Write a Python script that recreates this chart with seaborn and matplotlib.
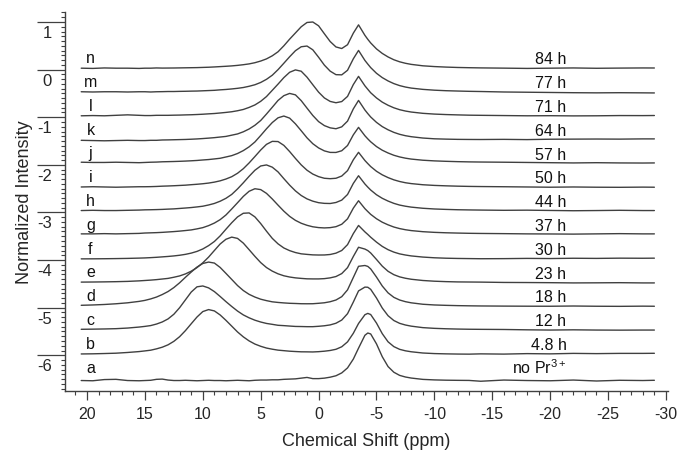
import pandas as pd
import matplotlib
matplotlib.use("Agg")
import matplotlib.pyplot as plt
import seaborn as sns
from matplotlib.ticker import MultipleLocator
from matplotlib.transforms import ScaledTranslation

# Chemical shift grid (ppm), shared by every spectrum
ppm = [20.5, 19.5, 18.5, 17.5, 16.5, 15.5,
       15.0, 14.5, 14.0, 13.5,
       13.0, 12.5, 12.0, 11.5, 11.0, 10.5, 10.0, 9.5, 9.0, 8.5,
       8.0, 7.5, 7.0, 6.5, 6.0, 5.5, 5.0, 4.5, 4.0, 3.5,
       3.0, 2.5, 2.0, 1.5, 1.0, 0.5, 0.0, -0.5, -1.0, -1.5,
       -2.0, -2.5, -3.0, -3.45, -4.0, -4.25, -4.5, -5.0, -5.5, -6.0,
       -6.5, -7.0, -7.5, -8.0, -9.0, -10.0, -11.0, -12.0, -13.0, -14.0,
       -16.0, -18.0, -20.0, -22.0, -24.0, -26.0, -28.0, -29.0]

# Normalized intensity of each spectrum (before stacking)
spec_n = [0.03, 0.025, 0.035, 0.03, 0.03, 0.025,
          0.03, 0.03, 0.035, 0.032,
          0.033, 0.034, 0.036, 0.038, 0.04, 0.042, 0.046, 0.05, 0.056, 0.063,
          0.07, 0.078, 0.089, 0.103, 0.12, 0.145, 0.18, 0.225, 0.29, 0.375,
          0.50, 0.64, 0.77, 0.90, 0.99, 1.0, 0.92, 0.753, 0.59, 0.476,
          0.443, 0.523, 0.766, 0.94, 0.72, 0.636, 0.56, 0.435, 0.34, 0.266,
          0.207, 0.164, 0.133, 0.11, 0.08, 0.064, 0.053, 0.045, 0.04, 0.036,
          0.031, 0.025, 0.03, 0.035, 0.028, 0.032, 0.035, 0.034]
spec_m = [0.035, 0.03, 0.035, 0.035, 0.03, 0.035,
          0.035, 0.03, 0.035, 0.037,
          0.04, 0.04, 0.043, 0.045, 0.048, 0.05, 0.055, 0.06, 0.065, 0.075,
          0.083, 0.094, 0.107, 0.124, 0.15, 0.182, 0.23, 0.296, 0.382, 0.50,
          0.634, 0.77, 0.897, 0.98, 0.995, 0.916, 0.76, 0.594, 0.468, 0.394,
          0.39, 0.486, 0.727, 0.903, 0.693, 0.616, 0.542, 0.423, 0.332, 0.262,
          0.206, 0.164, 0.134, 0.112, 0.085, 0.068, 0.057, 0.05, 0.044, 0.04,
          0.03, 0.025, 0.02, 0.015, 0.012, 0.015, 0.012, 0.01]
spec_l = [0.03, 0.035, 0.03, 0.04, 0.05, 0.04,
          0.035, 0.035, 0.04, 0.04,
          0.04, 0.043, 0.045, 0.049, 0.052, 0.057, 0.063, 0.071, 0.078, 0.089,
          0.101, 0.115, 0.136, 0.163, 0.206, 0.258, 0.334, 0.434, 0.565, 0.696,
          0.832, 0.944, 0.994, 0.966, 0.841, 0.683, 0.527, 0.405, 0.332, 0.304,
          0.329, 0.437, 0.686, 0.858, 0.66, 0.586, 0.514, 0.405, 0.317, 0.251,
          0.198, 0.158, 0.13, 0.109, 0.082, 0.066, 0.056, 0.049, 0.043, 0.04,
          0.035, 0.03, 0.032, 0.028, 0.03, 0.035, 0.034, 0.036]
spec_k = [0.015, 0.01, 0.005, 0.01, 0.015, 0.01,
          0.01, 0.015, 0.015, 0.022,
          0.024, 0.027, 0.03, 0.033, 0.038, 0.044, 0.052, 0.061, 0.071, 0.084,
          0.097, 0.123, 0.149, 0.194, 0.253, 0.331, 0.431, 0.567, 0.709, 0.853,
          0.953, 1.0, 0.97, 0.848, 0.691, 0.537, 0.408, 0.324, 0.277, 0.258,
          0.298, 0.418, 0.675, 0.853, 0.652, 0.576, 0.505, 0.392, 0.303, 0.236,
          0.182, 0.141, 0.112, 0.091, 0.063, 0.047, 0.04, 0.035, 0.033, 0.032,
          0.035, 0.03, 0.038, 0.04, 0.042, 0.04, 0.045, 0.045]
spec_j = [0.055, 0.05, 0.05, 0.055, 0.05, 0.045,
          0.05, 0.055, 0.058, 0.064,
          0.067, 0.07, 0.074, 0.079, 0.085, 0.092, 0.102, 0.111, 0.124, 0.138,
          0.165, 0.193, 0.238, 0.299, 0.378, 0.48, 0.616, 0.757, 0.888, 0.988,
          1.025, 0.981, 0.861, 0.716, 0.567, 0.444, 0.355, 0.293, 0.261, 0.26,
          0.296, 0.406, 0.63, 0.787, 0.611, 0.545, 0.484, 0.384, 0.307, 0.249,
          0.201, 0.166, 0.14, 0.121, 0.097, 0.083, 0.074, 0.067, 0.062, 0.059,
          0.055, 0.05, 0.045, 0.04, 0.045, 0.04, 0.038, 0.04]
spec_i = [0.035, 0.04, 0.035, 0.03, 0.035, 0.04,
          0.04, 0.042, 0.046, 0.052,
          0.056, 0.061, 0.067, 0.073, 0.083, 0.092, 0.103, 0.117, 0.137, 0.164,
          0.202, 0.251, 0.323, 0.419, 0.54, 0.674, 0.811, 0.93, 0.993, 0.989,
          0.909, 0.779, 0.635, 0.499, 0.387, 0.306, 0.252, 0.218, 0.209, 0.218,
          0.265, 0.378, 0.606, 0.763, 0.591, 0.526, 0.464, 0.365, 0.29, 0.232,
          0.185, 0.15, 0.124, 0.106, 0.082, 0.068, 0.059, 0.052, 0.047, 0.044,
          0.04, 0.035, 0.03, 0.035, 0.03, 0.028, 0.032, 0.03]
spec_h = [0.04, 0.045, 0.04, 0.04, 0.045, 0.05,
          0.055, 0.057, 0.06, 0.064,
          0.07, 0.075, 0.084, 0.093, 0.103, 0.116, 0.131, 0.157, 0.189, 0.236,
          0.297, 0.379, 0.494, 0.623, 0.759, 0.886, 0.976, 0.998, 0.951, 0.851,
          0.71, 0.574, 0.453, 0.356, 0.285, 0.237, 0.205, 0.191, 0.188, 0.209,
          0.259, 0.377, 0.61, 0.771, 0.598, 0.532, 0.471, 0.372, 0.297, 0.239,
          0.191, 0.155, 0.131, 0.112, 0.088, 0.073, 0.064, 0.057, 0.053, 0.05,
          0.045, 0.048, 0.042, 0.036, 0.04, 0.045, 0.04, 0.04]
spec_g = [0.05, 0.05, 0.055, 0.05, 0.055, 0.06,
          0.068, 0.072, 0.076, 0.082,
          0.09, 0.098, 0.108, 0.12, 0.133, 0.155, 0.181, 0.223, 0.277, 0.349,
          0.447, 0.573, 0.704, 0.837, 0.945, 0.998, 0.98, 0.901, 0.783, 0.653,
          0.527, 0.418, 0.334, 0.273, 0.23, 0.199, 0.182, 0.175, 0.181, 0.201,
          0.252, 0.366, 0.59, 0.746, 0.58, 0.519, 0.46, 0.368, 0.295, 0.24,
          0.194, 0.161, 0.137, 0.119, 0.096, 0.082, 0.073, 0.067, 0.062, 0.059,
          0.055, 0.05, 0.048, 0.045, 0.05, 0.055, 0.05, 0.05]
spec_f = [0.025, 0.026, 0.028, 0.031, 0.035, 0.041,
          0.045, 0.051, 0.058, 0.067,
          0.076, 0.087, 0.101, 0.12, 0.146, 0.182, 0.233, 0.303, 0.39, 0.508,
          0.648, 0.784, 0.906, 0.983, 0.99, 0.907, 0.767, 0.607, 0.456, 0.34,
          0.254, 0.198, 0.158, 0.131, 0.119, 0.109, 0.106, 0.107, 0.117, 0.145,
          0.201, 0.324, 0.556, 0.727, 0.592, 0.538, 0.48, 0.377, 0.287, 0.218,
          0.167, 0.13, 0.106, 0.087, 0.063, 0.048, 0.039, 0.034, 0.031, 0.028,
          0.03, 0.035, 0.032, 0.038, 0.035, 0.04, 0.038, 0.04]
spec_e = [0.037, 0.039, 0.042, 0.046, 0.052, 0.063,
          0.071, 0.079, 0.089, 0.102,
          0.115, 0.139, 0.167, 0.209, 0.266, 0.342, 0.442, 0.562, 0.701, 0.838,
          0.937, 0.982, 0.955, 0.856, 0.718, 0.578, 0.447, 0.343, 0.268, 0.211,
          0.17, 0.144, 0.126, 0.115, 0.106, 0.104, 0.104, 0.11, 0.126, 0.154,
          0.216, 0.341, 0.575, 0.769, 0.731, 0.699, 0.649, 0.513, 0.372, 0.264,
          0.193, 0.147, 0.118, 0.097, 0.071, 0.056, 0.047, 0.041, 0.039, 0.037,
          0.03, 0.028, 0.025, 0.02, 0.022, 0.025, 0.02, 0.02]
spec_d = [0.05, 0.057, 0.067, 0.082, 0.102, 0.132,
          0.153, 0.184, 0.223, 0.276,
          0.339, 0.422, 0.523, 0.638, 0.748, 0.853, 0.928, 0.958, 0.937, 0.845,
          0.72, 0.593, 0.465, 0.36, 0.28, 0.223, 0.178, 0.148, 0.123, 0.11,
          0.10, 0.092, 0.088, 0.083, 0.082, 0.083, 0.092, 0.103, 0.125, 0.161,
          0.231, 0.374, 0.635, 0.869, 0.886, 0.867, 0.814, 0.643, 0.455, 0.311,
          0.217, 0.161, 0.126, 0.102, 0.072, 0.057, 0.049, 0.043, 0.039, 0.036,
          0.033, 0.031, 0.03, 0.035, 0.03, 0.028, 0.032, 0.03]
spec_c = [0.046, 0.049, 0.053, 0.059, 0.072, 0.093,
          0.107, 0.124, 0.156, 0.20,
          0.264, 0.362, 0.50, 0.664, 0.828, 0.938, 0.956, 0.916, 0.838, 0.735,
          0.627, 0.525, 0.429, 0.348, 0.287, 0.237, 0.199, 0.169, 0.15, 0.13,
          0.123, 0.114, 0.106, 0.104, 0.101, 0.101, 0.109, 0.12, 0.138, 0.173,
          0.24, 0.374, 0.618, 0.852, 0.932, 0.929, 0.885, 0.703, 0.492, 0.331,
          0.23, 0.171, 0.136, 0.112, 0.081, 0.066, 0.057, 0.051, 0.047, 0.045,
          0.042, 0.035, 0.03, 0.035, 0.03, 0.028, 0.03, 0.03]
spec_b = [0.028, 0.031, 0.037, 0.044, 0.059, 0.078,
          0.092, 0.107, 0.135, 0.17,
          0.22, 0.293, 0.391, 0.518, 0.662, 0.804, 0.918, 0.96, 0.932, 0.847,
          0.734, 0.612, 0.49, 0.387, 0.302, 0.236, 0.189, 0.152, 0.128, 0.108,
          0.097, 0.086, 0.079, 0.073, 0.072, 0.07, 0.076, 0.086, 0.101, 0.126,
          0.179, 0.282, 0.462, 0.668, 0.852, 0.88, 0.856, 0.677, 0.454, 0.283,
          0.182, 0.125, 0.094, 0.074, 0.048, 0.036, 0.03, 0.026, 0.024, 0.03,
          0.025, 0.035, 0.03, 0.04, 0.035, 0.04, 0.04, 0.042]
spec_a = [-0.03, -0.035, -0.01, -0.005, -0.03, -0.035,
          -0.03, -0.025, -0.005, 0.0,
          -0.02, -0.03, -0.03, -0.025, -0.03, -0.035, -0.03, -0.025, -0.03, -0.03,
          -0.035, -0.03, -0.025, -0.03, -0.035, -0.025, -0.02, -0.02, -0.015, -0.015,
          -0.005, 0.0, 0.005, 0.02, 0.035, 0.01, 0.01, 0.02, 0.04, 0.07,
          0.13, 0.235, 0.42, 0.65, 0.92, 0.968, 0.948, 0.74, 0.47, 0.263,
          0.144, 0.078, 0.044, 0.022, -0.006, -0.017, -0.023, -0.026, -0.028, -0.045,
          -0.02, -0.03, -0.035, -0.02, -0.04, -0.025, -0.03, -0.025]

letters = ["n", "m", "l", "k", "j", "i", "h", "g", "f", "e", "d", "c", "b", "a"]
hours = ["84 h", "77 h", "71 h", "64 h", "57 h", "50 h", "44 h", "37 h",
         "30 h", "23 h", "18 h", "12 h", "4.8 h", r"no Pr$^{\mathregular{3+}}$"]
offsets = [0.0, -0.5, -1.0, -1.5, -2.0, -2.5, -3.0, -3.5,
           -4.0, -4.5, -5.0, -5.5, -6.0, -6.5]

spectra = [spec_n, spec_m, spec_l, spec_k, spec_j, spec_i, spec_h,
           spec_g, spec_f, spec_e, spec_d, spec_c, spec_b, spec_a]

# Long table, each spectrum stacked by its offset
rows = []
for letter, off, spec in zip(letters, offsets, spectra):
    for x, y in zip(ppm, spec):
        rows.append({"ppm": x, "intensity": y + off, "trace": letter})
df = pd.DataFrame(rows)

sns.set_style("ticks")
plt.rcParams["font.family"] = ["Liberation Sans", "DejaVu Sans"]
plt.rcParams["axes.unicode_minus"] = False

ink = "#404040"
fig = plt.figure(figsize=(6.79, 4.52), dpi=100)
ax = fig.add_axes([65 / 679, 1 - 392 / 452, 602.7 / 679, 379 / 452])

sns.lineplot(data=df, x="ppm", y="intensity", units="trace", estimator=None,
             sort=False, color=ink, linewidth=1.0, legend=False, ax=ax)

ax.set_xlim(21.9, -30.15)
ax.set_ylim(-6.75, 1.21)
sns.despine(ax=ax)
for side in ["left", "bottom"]:
    ax.spines[side].set_color(ink)
    ax.spines[side].set_linewidth(1.0)

# x ticks: every 5 ppm, minor every 1 ppm
ax.set_xticks(list(range(20, -31, -5)))
ax.xaxis.set_minor_locator(MultipleLocator(1))
ax.tick_params(axis="x", which="major", direction="out", length=6.5, width=0.9,
               color=ink, labelsize=11.5, pad=4)
ax.tick_params(axis="x", which="minor", direction="out", length=3, width=0.8, color=ink)

# y ticks: long majors, labels tucked under each tick line
ax.set_yticks(list(range(-6, 2)))
ax.yaxis.set_minor_locator(MultipleLocator(0.1))
ax.tick_params(axis="y", which="major", direction="out", length=20, width=0.9,
               color=ink, labelsize=12, pad=-10.5)
ax.tick_params(axis="y", which="minor", direction="out", length=3, width=0.8, color=ink)
shift = ScaledTranslation(0, -9 / 100, fig.dpi_scale_trans)
for lab in ax.get_yticklabels():
    lab.set_transform(lab.get_transform() + shift)

ax.set_xlabel("Chemical Shift (ppm)", fontsize=13)
ax.set_ylabel("Normalized Intensity", fontsize=13)
ax.xaxis.set_label_coords(0.5, -0.108)
ax.yaxis.set_label_coords(-0.053, 0.5)

# Trace letters on the left, reaction times on the right
for letter, hr, off in zip(letters, hours, offsets):
    ax.text(19.7, off + 0.25, letter, ha="center", va="center", fontsize=11.5, color="#111111")
    ax.text(-21.4, off + 0.13, hr, ha="right", va="baseline", fontsize=11.5, color="#111111")

fig.savefig("out.png", dpi=100)
